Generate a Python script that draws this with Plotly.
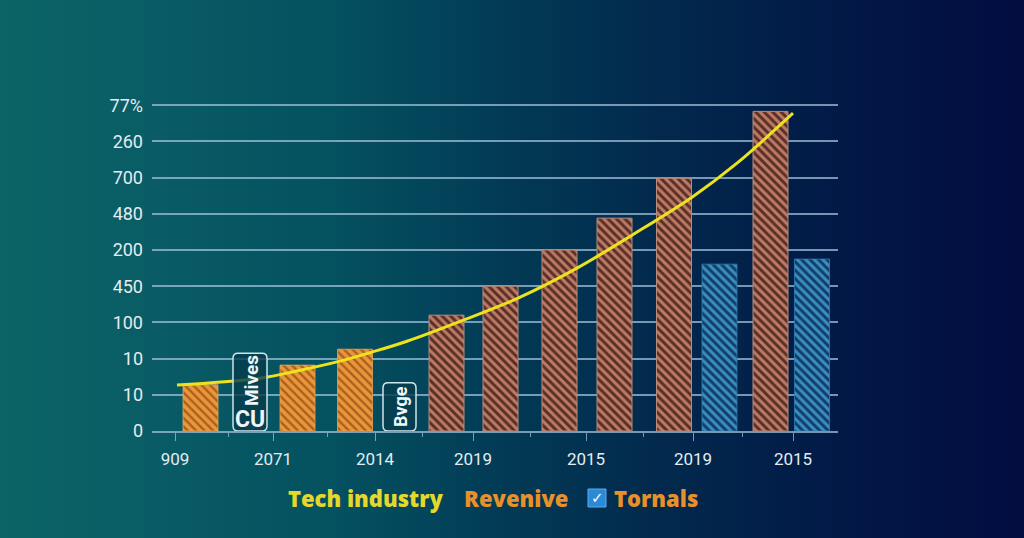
import plotly.graph_objects as go

# ---------------- data ----------------
y_tick_vals = [0, 1, 2, 3, 4, 5, 6, 7, 8, 9]
y_tick_text = ["0", "10", "10", "100", "450", "200", "480", "700", "260", "77%"]

x_tick_vals = [0.46, 2.42, 4.46, 6.42, 8.68, 10.82, 12.82]
x_tick_text = ["909", "2071", "2014", "2019", "2015", "2019", "2015"]
x_minor_vals = [1.52, 3.5, 5.4, 7.56, 9.82, 11.8]

revenue_x = [0.97, 2.91, 4.06]
revenue_y = [1.28, 1.82, 2.26]

revenue2_x = [5.89, 6.97, 8.15, 9.25, 10.44, 12.37]
revenue2_y = [3.20, 4.00, 5.00, 5.88, 6.98, 8.83]

totals_x = [11.35, 13.20]
totals_y = [4.61, 4.75]

tech_x = [0.5, 2.16, 2.9, 3.76, 4.4, 5.1, 6.22, 7.32, 8.5, 9.6, 10.8, 11.7, 12.82]
tech_y = [1.27, 1.46, 1.66, 1.93, 2.18, 2.48, 3.06, 3.67, 4.50, 5.41, 6.46, 7.40, 8.78]

# ---------------- figure ----------------
W, H = 1024, 538
ML, MR, MT, MB = 152, 186, 98, 107
grid_col = "rgba(165,195,220,0.72)"

fig = go.Figure()

fig.add_trace(go.Bar(
    x=revenue_x, y=revenue_y, width=0.7, name="Revenive",
    marker=dict(color="#d98a2e",
                line=dict(color="#e7a55a", width=0.8),
                pattern=dict(shape="\\", size=6, solidity=0.4,
                             fgcolor="#ad5e1e", bgcolor="#e8983a",
                             fillmode="replace")),
    showlegend=False, hoverinfo="skip"))

fig.add_trace(go.Bar(
    x=revenue2_x, y=revenue2_y, width=0.7, name="Revenive",
    marker=dict(color="#a0624f",
                line=dict(color="#b88a7a", width=1),
                pattern=dict(shape="\\", size=6, solidity=0.5,
                             fgcolor="#bf7a62", bgcolor="#58302a",
                             fillmode="replace")),
    showlegend=False, hoverinfo="skip"))

fig.add_trace(go.Bar(
    x=totals_x, y=totals_y, width=0.7, name="Tornals",
    marker=dict(color="#1f5f8f",
                line=dict(color="#2f7fb0", width=0.8),
                pattern=dict(shape="\\", size=6, solidity=0.5,
                             fgcolor="#3a8ec2", bgcolor="#123e68",
                             fillmode="replace")),
    showlegend=False, hoverinfo="skip"))

fig.add_trace(go.Scatter(
    x=tech_x, y=tech_y, mode="lines", name="Tech industry",
    line=dict(color="#ece21e", width=3, shape="spline", smoothing=1.0),
    showlegend=False, hoverinfo="skip"))

# ---------------- background gradient ----------------
stops = [(0, (12, 100, 102)), (150, (9, 92, 101)), (340, (4, 80, 96)),
         (510, (2, 58, 85)), (650, (2, 42, 77)), (850, (2, 24, 70)),
         (1024, (2, 12, 64))]

def col_at(px):
    for (a, ca), (b, cb) in zip(stops[:-1], stops[1:]):
        if a <= px <= b:
            t = (px - a) / (b - a)
            return tuple(int(round(ca[i] + (cb[i] - ca[i]) * t)) for i in range(3))
    return stops[-1][1]

pw = W - ML - MR
ph = H - MT - MB

def px_x(p):
    return (p - ML) / pw

def px_y(p):
    return (H - MB - p) / ph

shapes = []
n = 128
for i in range(n):
    x0 = i * W / n
    x1 = (i + 1) * W / n
    c = col_at((x0 + x1) / 2)
    shapes.append(dict(type="rect", xref="paper", yref="paper",
                       x0=px_x(x0), x1=px_x(x1 + 0.6),
                       y0=px_y(H + 2), y1=px_y(-2),
                       fillcolor="rgb(%d,%d,%d)" % c, line=dict(width=0), layer="below"))

# rounded label boxes (data coordinates)
def rounded_box(x0, x1, y0, y1, rx=0.1, ry=0.14):
    path = (f"M {x0+rx},{y0} L {x1-rx},{y0} Q {x1},{y0} {x1},{y0+ry} "
            f"L {x1},{y1-ry} Q {x1},{y1} {x1-rx},{y1} L {x0+rx},{y1} "
            f"Q {x0},{y1} {x0},{y1-ry} L {x0},{y0+ry} Q {x0},{y0} {x0+rx},{y0} Z")
    return dict(type="path", xref="x", yref="y", path=path,
                fillcolor="rgba(6,60,78,0.8)", line=dict(color="#cfe4ea", width=1.5),
                layer="above")

shapes.append(rounded_box(1.62, 2.3, 0.0, 2.15))
shapes.append(rounded_box(4.62, 5.28, 0.0, 1.33))

# legend checkbox
shapes.append(dict(type="rect", xref="paper", yref="paper",
                   x0=px_x(588), x1=px_x(606), y0=px_y(507), y1=px_y(489),
                   fillcolor="#2a8ad8", line=dict(color="#5aaaf0", width=1)))

def ann(x, y, text, font, xref="paper", yref="paper", angle=0):
    return dict(x=x, y=y, xref=xref, yref=yref, text=text, showarrow=False,
                xanchor="center", yanchor="middle", textangle=angle, font=font)

annotations = [
    ann(1.96, 0.33, "<b>CU</b>", dict(family="Roboto", size=23, color="#eef6f8"), "x", "y"),
    ann(1.98, 1.38, "<b>Mives</b>", dict(family="Roboto", size=19, color="#eef6f8"), "x", "y", -90),
    ann(4.96, 0.66, "<b>Bvge</b>", dict(family="Roboto", size=18, color="#eef6f8"), "x", "y", -90),
    ann(px_x(366), px_y(498), "Tech industry",
        dict(family="Open Sans", size=22, weight=800, color="#e6d82a")),
    ann(px_x(516), px_y(498), "Revenive",
        dict(family="Open Sans", size=22, weight=800, color="#e8902a")),
    ann(px_x(597), px_y(498), "<b>✓</b>",
        dict(family="DejaVu Sans", size=15, color="#ffffff")),
    ann(px_x(656), px_y(498), "Tornals",
        dict(family="Open Sans", size=22, weight=800, color="#e8902a")),
]

fig.update_layout(
    width=W, height=H, autosize=False,
    margin=dict(l=ML, r=MR, t=MT, b=MB, pad=0),
    paper_bgcolor="#033a55", plot_bgcolor="rgba(0,0,0,0)",
    barmode="overlay", showlegend=False,
    shapes=shapes, annotations=annotations,
    xaxis=dict(range=[0, pw / 50], showgrid=False, zeroline=False,
               showline=True, linecolor=grid_col, linewidth=1.5,
               tickmode="array", tickvals=x_tick_vals, ticktext=x_tick_text,
               ticks="outside", ticklen=8, tickwidth=1.2, tickcolor=grid_col,
               ticklabelstandoff=4,
               tickfont=dict(family="Roboto", size=17, color="#e3ecf0"),
               minor=dict(tickmode="array", tickvals=x_minor_vals, ticks="outside",
                          ticklen=4, tickwidth=1, tickcolor=grid_col, showgrid=False),
               fixedrange=True),
    yaxis=dict(range=[0, 9.2], showgrid=True, gridcolor=grid_col, gridwidth=1.5,
               zeroline=False, showline=False,
               tickmode="array", tickvals=y_tick_vals, ticktext=y_tick_text,
               ticklabelstandoff=8,
               tickfont=dict(family="Roboto", size=18, color="#e3ecf0"),
               fixedrange=True),
)

fig.write_html(
    "out.html",
    config={"displayModeBar": False},
    post_script="document.body.style.margin='0';document.body.style.overflow='hidden';",
)
